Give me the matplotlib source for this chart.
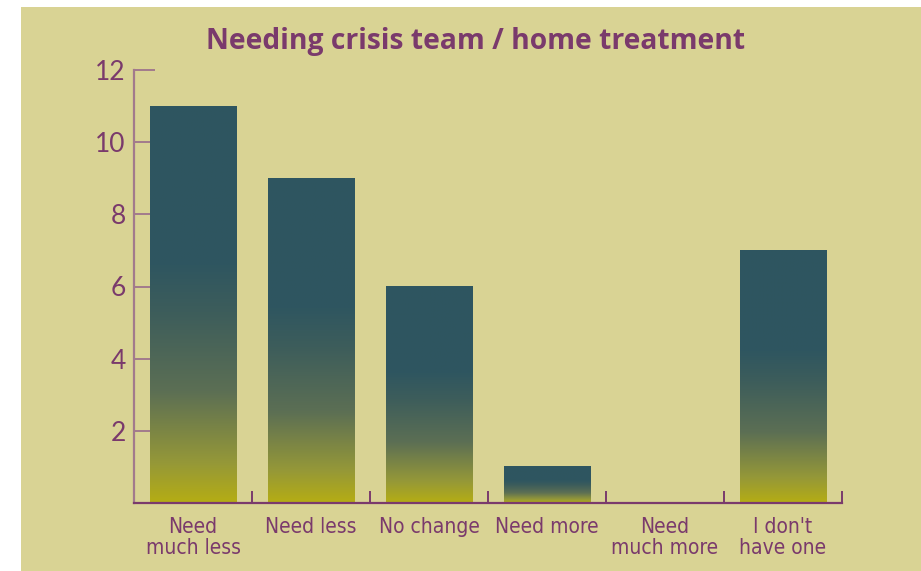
import numpy as np
import matplotlib
matplotlib.use("Agg")
import matplotlib.pyplot as plt
from matplotlib.colors import LinearSegmentedColormap
from matplotlib.patches import Rectangle

categories = ["Need\nmuch less", "Need less", "No change", "Need more",
              "Need\nmuch more", "I don't\nhave one"]
counts = [11, 9, 6, 1, 0, 7]
y_ticks = [2, 4, 6, 8, 10, 12]
title = "Needing crisis team / home treatment"

BG = "#d9d394"
PURPLE = "#7a3a6c"
MAUVE = "#a27a8c"

# teal at the top of each bar fading to olive-yellow at the base
bar_cmap = LinearSegmentedColormap.from_list(
    "bar_fade",
    [(0.0, "#b5ad14"), (0.1, "#959838"), (0.28, "#5c6f54"),
     (0.48, "#3d5d5b"), (0.6, "#2f5660"), (1.0, "#2e5560")],
)

W, H = 921, 571
fig = plt.figure(figsize=(W / 100, H / 100), dpi=100, facecolor="white")
fig.patches.append(Rectangle((21 / W, 0), 1, (H - 7) / H, transform=fig.transFigure,
                             facecolor=BG, edgecolor="none", zorder=-10))

ax = fig.add_axes([134 / W, (H - 503) / H, (842 - 134) / W, (503 - 70) / H])
ax.set_facecolor("none")
ax.set_zorder(2)

grad = np.linspace(1, 0, 256).reshape(-1, 1)
bar_w = 0.73
for i, v in enumerate(counts):
    if v <= 0:
        continue
    ax.imshow(grad, extent=[i - bar_w / 2, i + bar_w / 2, 0, v], aspect="auto",
              cmap=bar_cmap, vmin=0, vmax=1, zorder=3, interpolation="bilinear")

ax.set_xlim(-0.5, len(categories) - 0.5)
ax.set_ylim(0, 12)

for s in ["top", "right"]:
    ax.spines[s].set_visible(False)
ax.spines["left"].set_color(MAUVE)
ax.spines["left"].set_linewidth(1.6)
ax.spines["bottom"].set_color(PURPLE)
ax.spines["bottom"].set_linewidth(1.6)
ax.spines["bottom"].set_zorder(5)

ax.set_yticks(y_ticks)
ax.set_yticklabels([str(t) for t in y_ticks], family="Lato", fontsize=19, color=PURPLE)
ax.tick_params(axis="y", direction="in", length=15, width=1.4, color=MAUVE, pad=6)

ax.set_xticks(range(len(categories)))
ax.set_xticklabels(categories, family="DejaVu Sans", stretch="condensed",
                   fontsize=15, color=PURPLE, linespacing=1.1)
ax.tick_params(axis="x", which="major", length=0, pad=10)
ax.set_xticks(np.arange(0.5, len(categories)), minor=True)
ax.tick_params(axis="x", which="minor", direction="in", length=9, width=1.4, color=PURPLE)

fig.text(476 / W, 1 - 41 / H, title, ha="center", va="center", fontsize=20.3,
         fontweight="bold", color=PURPLE, family="Open Sans")

fig.savefig("out.png", dpi=100, facecolor="white")
